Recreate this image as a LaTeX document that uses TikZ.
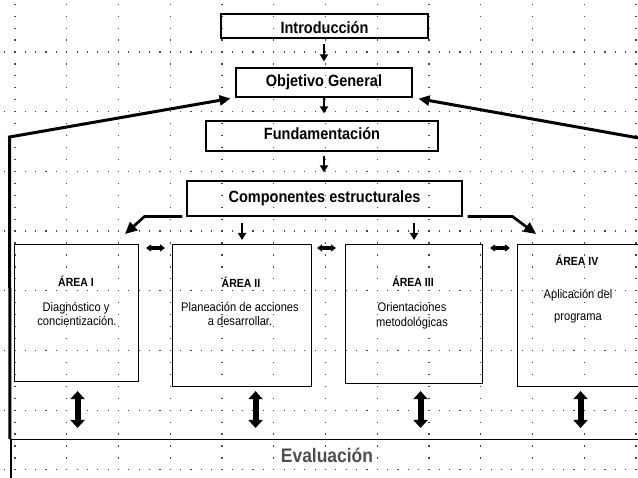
\documentclass[tikz,border=0pt]{standalone}
\usepackage{fontspec}
\setmainfont{Liberation Sans}[FakeStretch=0.89]
\usetikzlibrary{arrows.meta}
\definecolor{dotc}{RGB}{70,70,70}
\definecolor{evalgray}{RGB}{78,78,78}
\begin{document}
\begin{tikzpicture}[x=1pt,y=-1pt,
  tbox/.style={draw, line width=1.2pt, inner sep=0pt, text height=8pt, text depth=0pt,
    font=\fontsize{16.3}{18}\selectfont\bfseries},
  abox/.style={draw, line width=1.1pt, inner sep=0pt, anchor=north west},
  atitle/.style={anchor=base, inner sep=0pt, font=\fontsize{11.8}{13}\selectfont\bfseries},
  abody/.style={anchor=base, inner sep=0pt, font=\fontsize{12.5}{14}\selectfont},
  smallarr/.style={line width=2pt, -{Triangle[width=8pt,length=7pt]}},
  bentarr/.style={line width=2.7pt, -{Triangle[width=11pt,length=12pt]}},
  fbarr/.style={line width=3pt, -{Triangle[width=10pt,length=11pt]}},
  harr/.style={line width=3.2pt, {Triangle[width=7pt,length=5pt]}-{Triangle[width=7pt,length=5pt]}},
  varr/.style={line width=6pt, {Triangle[width=14pt,length=8pt]}-{Triangle[width=14pt,length=8pt]}}
]
\useasboundingbox (0,0) rectangle (638,478);
\clip (0,0) rectangle (638,478);
% dotted grid
\foreach \i in {0,...,12} {
  \foreach \j in {-4,...,36} {
    \fill[dotc] ({15+51.75*\i-0.6},{52+11.94*\j-0.6}) rectangle ++(1.2,1.2);
  }
}
\foreach \k in {0,...,7} {
  \foreach \m in {-1,...,61} {
    \fill[dotc] ({15+10.35*\m-0.6},{52+59.7*\k-0.6}) rectangle ++(1.2,1.2);
  }
}
% title boxes
\node[tbox, minimum width=207pt, minimum height=24pt, text height=16pt] (intro) at (324.5,26) {Introducción};
\node[tbox, minimum width=176pt, minimum height=29pt] (obj) at (324,82.5) {Objetivo General};
\node[tbox, minimum width=232pt, minimum height=30pt] (fund) at (322,136) {Fundamentación};
\node[tbox, minimum width=275pt, minimum height=35pt] (comp) at (324.5,198.5) {Componentes estructurales};
% area boxes
\node[abox, minimum width=124pt, minimum height=137pt] (a1) at (14,244) {};
\node[abox, minimum width=139pt, minimum height=142pt] (a2) at (172,244) {};
\node[abox, minimum width=137pt, minimum height=139pt] (a3) at (345,244) {};
\node[abox, minimum width=130pt, minimum height=142pt] (a4) at (517,244) {};
% evaluation box
\node[draw, line width=1.5pt, inner sep=0pt, anchor=north west, minimum width=640pt, minimum height=60pt] (eval) at (10,439) {};
\node[anchor=base, inner sep=0pt, text=evalgray, font=\fontsize{19.6}{22}\selectfont\bfseries] (evaltxt) at (327,463) {Evaluación};
% area texts
\node[atitle] (t1a) at (76,287) {ÁREA I};
\node[abody] (t1b) at (76,312) {Diagnóstico y};
\node[abody] (t1c) at (77,326) {concientización.};
\node[atitle] (t2a) at (241,288) {ÁREA II};
\node[abody] (t2b) at (240,312) {Planeación de acciones};
\node[abody] (t2c) at (240,326) {a desarrollar.};
\node[atitle] (t3a) at (413,287) {ÁREA III};
\node[abody] (t3b) at (412,312) {Orientaciones};
\node[abody] (t3c) at (412,327) {metodológicas};
\node[atitle] (t4a) at (577,266) {ÁREA IV};
\node[abody] (t4b) at (578,299) {Aplicación del};
\node[abody] (t4c) at (578,321) {programa};
% vertical chain arrows
\draw[smallarr, shorten <=5pt, shorten >=6pt] (intro.south -| obj.south) -- (obj.north);
\draw[smallarr, shorten >=7pt] (obj.south) -- (obj.south |- fund.north);
\draw[smallarr, shorten <=4pt, shorten >=8pt] (fund.south -| obj.south) -- (obj.south |- comp.north);
\draw[smallarr, shorten <=6.7pt, shorten >=4pt] (comp.south -| a2.north) -- (a2.north);
\draw[smallarr, shorten <=6.7pt, shorten >=4pt] (comp.south -| a3.north) -- (a3.north);
% bent arrows
\coordinate (tl) at (125,234);
\coordinate (tr) at (536,234);
\draw[bentarr] ([xshift=-4pt]comp.south west) -- ++(-38,0) -- (tl);
\draw[bentarr] ([xshift=5pt]comp.south east) -- ++(45,0) -- (tr);
% feedback arrows
\coordinate (fl) at (9.5,137);
\coordinate (fr) at (650,140);
\draw[fbarr, shorten >=5pt] (eval.north west) -- (fl) -- (obj.south west);
\draw[fbarr, shorten >=6pt] (fr) -- (obj.south east);
% horizontal double arrows
\draw[harr, shorten <=7pt, shorten >=7pt] ([yshift=-4pt]a1.north east) -- ([yshift=-4pt]a2.north west);
\draw[harr, shorten <=5pt, shorten >=9pt] ([yshift=-4pt]a2.north east) -- ([yshift=-4pt]a3.north west);
\draw[harr, shorten <=7pt, shorten >=7pt] ([yshift=-4pt]a3.north east) -- ([yshift=-4pt]a4.north west);
% vertical double arrows
\draw[varr, shorten <=9pt, shorten >=11pt] ([xshift=1pt]a1.south) -- ([xshift=1pt]a1.south |- eval.north);
\draw[varr, shorten <=4pt, shorten >=11pt] ([xshift=13.5pt]a2.south) -- ([xshift=13.5pt]a2.south |- eval.north);
\draw[varr, shorten <=7pt, shorten >=11pt] ([xshift=6.5pt]a3.south) -- ([xshift=6.5pt]a3.south |- eval.north);
\draw[varr, shorten <=4pt, shorten >=11pt] ([xshift=-2pt]a4.south) -- ([xshift=-2pt]a4.south |- eval.north);
\end{tikzpicture}
\end{document}
